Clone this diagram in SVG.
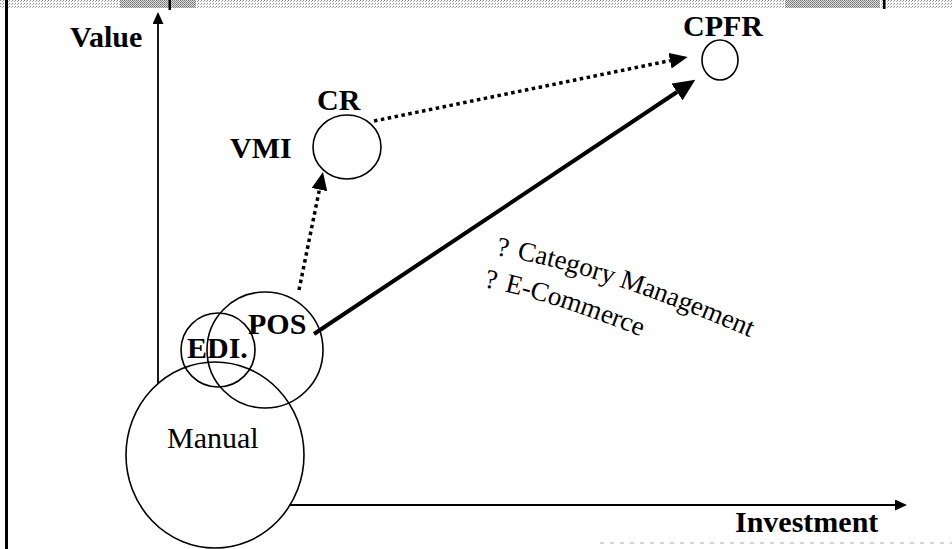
<svg xmlns="http://www.w3.org/2000/svg" width="952" height="549" viewBox="0 0 952 549">
<style>
.lbl{font-family:"Liberation Serif","Times New Roman",serif;font-size:30px;font-weight:bold;fill:#000}
.reg{font-family:"Liberation Serif","Times New Roman",serif;font-size:30px;fill:#000}
.note{font-family:"Liberation Serif","Times New Roman",serif;font-size:27px;fill:#000}
.node{fill:none;stroke:#000;stroke-width:1.6}
.axis{fill:none;stroke:#000;stroke-width:1.8}
.solid{fill:none;stroke:#000;stroke-width:4}
.dot{fill:none;stroke:#000;stroke-width:3.5;stroke-dasharray:3.5 3.5}
</style>
<defs>
<pattern id="stip" width="3" height="3" patternUnits="userSpaceOnUse">
<rect width="3" height="3" fill="#ffffff"/>
<rect width="1" height="1" fill="#888"/>
<rect x="2" y="1" width="1" height="1" fill="#aaa"/>
</pattern>
<pattern id="stip2" width="2" height="2" patternUnits="userSpaceOnUse">
<rect width="2" height="2" fill="#ddd"/>
<rect width="1" height="1" fill="#777"/>
<rect x="1" y="1" width="1" height="1" fill="#888"/>
</pattern>
<marker id="ahBig" markerUnits="userSpaceOnUse" markerWidth="24" markerHeight="20" refX="0" refY="10" orient="auto">
<path d="M0,0 L22,10 L0,20 z" fill="#000"/>
</marker>
<marker id="ahDot" markerUnits="userSpaceOnUse" markerWidth="20" markerHeight="18" refX="0" refY="8" orient="auto">
<path d="M0,0 L18,8 L0,16 z" fill="#000"/>
</marker>
<marker id="ahAx" markerUnits="userSpaceOnUse" markerWidth="14" markerHeight="12" refX="0" refY="5.5" orient="auto">
<path d="M0,0 L12,5.5 L0,11 z" fill="#000"/>
</marker>
<path id="p1" d="M496,255 Q600,272 756,340"/>
<path id="p2" d="M484,287 Q552,300 652,341"/>
</defs>

<g id="frame">
<rect x="0" y="0" width="952" height="8" fill="url(#stip)"/>
<rect x="120" y="0" width="50" height="8" fill="url(#stip2)"/>
<rect x="171" y="0" width="25" height="8" fill="url(#stip2)"/>
<rect x="785" y="0" width="95" height="8" fill="url(#stip2)"/>
<rect x="168.5" y="0" width="2.5" height="10" fill="#000"/>
<rect x="883" y="0" width="2.5" height="9" fill="#000"/>
<rect x="5" y="0" width="3" height="549" fill="#000"/>
<line x1="600" y1="543" x2="952" y2="543" stroke="#aaa" stroke-width="1" stroke-dasharray="4 6"/>
</g>

<g id="axes">
<line class="axis" x1="158" y1="383" x2="158" y2="24" marker-end="url(#ahAx)"/>
<line class="axis" x1="290" y1="505" x2="895" y2="505" marker-end="url(#ahAx)"/>
<text class="lbl" x="70" y="47">Value</text>
<text class="lbl" x="735" y="532">Investment</text>
</g>

<g id="node-manual">
<ellipse class="node" cx="215" cy="455" rx="89" ry="93" fill="#fff"/>
<text class="reg" x="167" y="448">Manual</text>
</g>
<g id="node-pos">
<circle class="node" cx="265" cy="350" r="58"/>
<text class="lbl" x="248" y="334">POS</text>
</g>
<g id="node-edi">
<circle class="node" cx="218" cy="350" r="37" stroke-width="2.6"/>
<text class="lbl" x="187" y="358">EDI.</text>
</g>
<g id="node-cr">
<ellipse class="node" cx="347" cy="147" rx="34" ry="32" stroke-width="2"/>
<text class="lbl" x="317" y="110">CR</text>
</g>
<g id="node-vmi">
<text class="lbl" x="230" y="158">VMI</text>
</g>
<g id="node-cpfr">
<ellipse class="node" cx="720" cy="60" rx="18" ry="20"/>
<text class="lbl" x="683" y="36">CPFR</text>
</g>

<g id="connectors">
<line class="solid" x1="314" y1="334" x2="677" y2="92" marker-end="url(#ahBig)"/>
<line class="dot" x1="374" y1="121" x2="670" y2="60.6" marker-end="url(#ahDot)"/>
<line class="dot" x1="299" y1="290" x2="319.4" y2="189.6" marker-end="url(#ahDot)"/>
</g>

<g id="notes">
<text class="note"><textPath href="#p1">?<tspan dx="9">Category Management</tspan></textPath></text>
<text class="note"><textPath href="#p2">?<tspan dx="9">E-Commerce</tspan></textPath></text>
</g>
</svg>
